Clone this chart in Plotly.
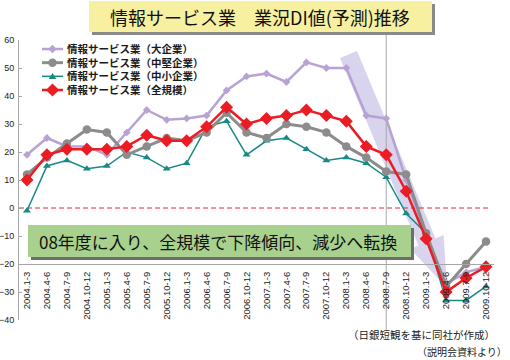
import plotly.graph_objects as go

categories = ["2004.1-3", "2004.4-6", "2004.7-9", "2004.10-12",
              "2005.1-3", "2005.4-6", "2005.7-9", "2005.10-12",
              "2006.1-3", "2006.4-6", "2006.7-9", "2006.10-12",
              "2007.1-3", "2007.4-6", "2007.7-9", "2007.10-12",
              "2008.1-3", "2008.4-6", "2008.7-9", "2008.10-12",
              "2009.1-3", "2009.4-6", "2009.7-9", "2009.10-12"]

large = [19, 25, 22, 22, 19, 27, 35, 31.5, 32, 33, 42, 47,
         48, 45, 52, 50, 50, 33, 32, 10, -10, -27, -23, -21]
medium = [12, 18, 23, 28, 27, 19, 22, 25, 24, 27, 34, 27,
          25, 30, 29, 27, 22, 18, 13, 12, -9, -28, -20, -12]
small = [-1, 15, 17, 14, 15, 20, 18, 14, 16, 29, 31, 19,
         24, 25, 21, 17, 18, 16, 11, -2, -9, -33, -33, -28]
total = [10, 19, 21, 21, 21, 22, 26, 24, 24, 29, 36, 30,
         32, 33, 35, 33, 31, 22, 19, 6, -11, -30, -25, -21]

series_names = ["情報サービス業（大企業）", "情報サービス業（中堅企業）",
                "情報サービス業（中小企業）", "情報サービス業（全規模）"]
y_ticks = [-40, -30, -20, -10, 0, 10, 20, 30, 40, 50, 60]

title_text = "情報サービス業　業況DI値(予測)推移"
note_text = "08年度に入り、全規模で下降傾向、減少へ転換"
source1 = "（日銀短観を基に同社が作成）"
source2 = "（説明会資料より）"

W, H = 510, 360
ML, MR, MT, MB = 19, 16, 40, 40
PW, PH = W - ML - MR, H - MT - MB
XR = [-0.4, len(categories) - 0.6]


def px(x):
    return (x - ML) / PW


def py(y):
    return (H - MB - y) / PH


C_L, C_M, C_S, C_T = "#b8a2d4", "#8c8c8c", "#178a85", "#ec1c24"
CJK = "Noto Sans CJK JP"

fig = go.Figure()
fig.add_trace(go.Scatter(x=categories, y=large, name=series_names[0], mode="lines+markers",
                         line=dict(color=C_L, width=2.5), marker=dict(symbol="diamond", size=6, color=C_L)))
fig.add_trace(go.Scatter(x=categories, y=small, name=series_names[2], mode="lines+markers",
                         line=dict(color=C_S, width=1.5), marker=dict(symbol="triangle-up", size=7, color=C_S)))
fig.add_trace(go.Scatter(x=categories, y=medium, name=series_names[1], mode="lines+markers",
                         line=dict(color=C_M, width=3), marker=dict(symbol="circle", size=8.5, color=C_M)))
fig.add_trace(go.Scatter(x=categories, y=total, name=series_names[3], mode="lines+markers",
                         line=dict(color=C_T, width=2.5), marker=dict(symbol="diamond", size=10, color=C_T)))

shapes = []
annotations = []

# downward arrow band
pts = [(340, 58), (357, 51), (435.5, 238.4), (443.6, 235), (447, 288), (410.4, 249), (418.5, 245.6)]
path = "M " + " L ".join(f"{px(a):.4f},{py(b):.4f}" for a, b in pts) + " Z"
shapes.append(dict(type="path", xref="paper", yref="paper", path=path,
                   fillcolor="#d8d4ee", line=dict(width=0), layer="below"))

# zero dashed line
shapes.append(dict(type="line", xref="paper", yref="y", x0=0, x1=(491 - ML) / PW, y0=0, y1=0,
                   line=dict(color="#e0282c", width=1, dash="5px,3px"), layer="below"))

# vertical gray line at 2008.7-9
xv = (categories.index("2008.7-9") - XR[0]) / (XR[1] - XR[0])
shapes.append(dict(type="line", xref="paper", yref="paper", x0=xv, x1=xv, y0=py(330), y1=py(35),
                   line=dict(color="#a8a8a8", width=1), layer="below"))

# title box
shapes.append(dict(type="rect", xref="paper", yref="paper", x0=px(92), x1=px(435), y0=py(35), y1=py(4),
                   fillcolor="#8a8a8a", line=dict(width=0)))
shapes.append(dict(type="rect", xref="paper", yref="paper", x0=px(89), x1=px(432), y0=py(32), y1=py(1),
                   fillcolor="#f6f0a0", line=dict(width=0)))
annotations.append(dict(x=px(260), y=py(16.5), xref="paper", yref="paper", text=title_text, showarrow=False,
                        xanchor="center", yanchor="middle", font=dict(family=CJK, size=18, color="#111")))

# green note box
shapes.append(dict(type="rect", xref="paper", yref="paper", x0=px(31), x1=px(414), y0=py(260), y1=py(228),
                   fillcolor="#6e6e6e", line=dict(width=0)))
shapes.append(dict(type="rect", xref="paper", yref="paper", x0=px(28), x1=px(411), y0=py(257), y1=py(225),
                   fillcolor="#a9d18e", line=dict(width=0)))
annotations.append(dict(x=px(218), y=py(241), xref="paper", yref="paper", text=note_text, showarrow=False,
                        xanchor="center", yanchor="middle", font=dict(family=CJK, size=17, color="#111")))

# manual legend (one multi-line text block, symbols drawn as shapes)
LFS = 10.5
spacing = 1.3 * LFS
mid_y = 69.5
rows = [mid_y + (i - 1.5) * spacing for i in range(4)]
styles = [(C_L, 2.5, "diamond", 3.5), (C_M, 3, "circle", 4.2), (C_S, 1.5, "triangle", 3.8), (C_T, 2.5, "diamond", 5.5)]
for yrow, (col, lw, sym, r) in zip(rows, styles):
    shapes.append(dict(type="line", xref="paper", yref="paper", x0=px(42), x1=px(63), y0=py(yrow), y1=py(yrow),
                       line=dict(color=col, width=lw)))
    base = dict(xref="paper", yref="paper", xsizemode="pixel", ysizemode="pixel",
                xanchor=px(52.5), yanchor=py(yrow), fillcolor=col, line=dict(width=0))
    if sym == "circle":
        shapes.append(dict(type="circle", x0=-r, x1=r, y0=-r, y1=r, **base))
    elif sym == "diamond":
        shapes.append(dict(type="path", path=f"M {-r*1.2},0 L 0,{r*1.2} L {r*1.2},0 L 0,{-r*1.2} Z", **base))
    else:
        shapes.append(dict(type="path", path=f"M {-r},{-r*0.7} L {r},{-r*0.7} L 0,{r*0.9} Z", **base))
annotations.append(dict(x=px(65), y=py(mid_y), xref="paper", yref="paper", text="<br>".join(series_names),
                        showarrow=False, xanchor="left", yanchor="middle", align="left",
                        font=dict(family=CJK, size=LFS, color="#1a1a1a", weight="bold")))

# source notes
annotations.append(dict(x=px(421), y=py(334), xref="paper", yref="paper", text=source1, showarrow=False,
                        xanchor="center", yanchor="middle", font=dict(family=CJK, size=10.5, color="#222")))
annotations.append(dict(x=px(509), y=py(351.5), xref="paper", yref="paper", text=source2, showarrow=False,
                        xanchor="right", yanchor="middle", font=dict(family=CJK, size=10, color="#222")))

fig.update_layout(
    width=W, height=H, autosize=False,
    margin=dict(l=ML, r=MR, t=MT, b=MB, pad=0),
    paper_bgcolor="white", plot_bgcolor="white",
    showlegend=False,
    shapes=shapes, annotations=annotations,
    xaxis=dict(type="category", range=XR, anchor="free", position=0.2,
               showline=True, linecolor="#a6a6a6", linewidth=1, ticks="", showgrid=False, zeroline=False,
               tickangle=-90, tickfont=dict(family="Liberation Sans", size=9.5, color="#222"),
               automargin=False, ticklabelstandoff=3),
    yaxis=dict(range=[-40, 60], tickvals=y_ticks, showline=True, linecolor="#a6a6a6", linewidth=1,
               ticks="inside", ticklen=3, tickcolor="#a6a6a6", showgrid=False, zeroline=False,
               tickfont=dict(family="Liberation Sans", size=9, color="#222"), automargin=False,
               ticklabelstandoff=2),
)

fig.write_html("out.html", config=dict(displayModeBar=False),
               post_script="document.body.style.margin='0';document.body.style.overflow='hidden';")
